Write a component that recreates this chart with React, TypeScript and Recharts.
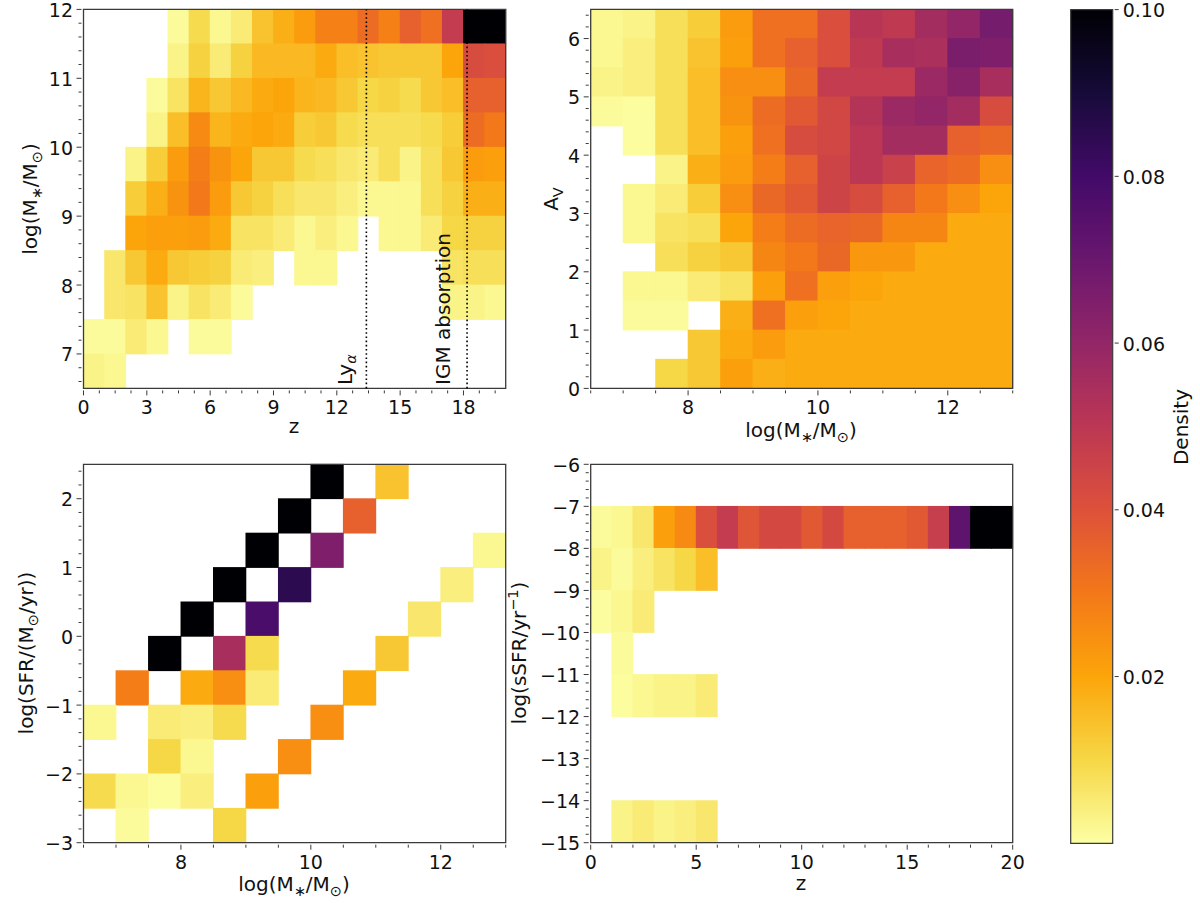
import React from 'react'
import {
  Bar,
  BarChart,
  ReferenceArea,
  ReferenceLine,
  Scatter,
  ScatterChart,
  XAxis,
  YAxis,
} from 'recharts'

const FONT = 'DejaVu Sans'
const TEXT = '#111111'
const AXIS = '#3a3a3a'

// bin centres, rows run from the top of the panel down
const zBins = [0.5, 1.5, 2.5, 3.5, 4.5, 5.5, 6.5, 7.5, 8.5, 9.5, 10.5, 11.5, 12.5, 13.5, 14.5, 15.5, 16.5, 17.5, 18.5, 19.5]
const massRows = [11.75, 11.25, 10.75, 10.25, 9.75, 9.25, 8.75, 8.25, 7.75, 7.25, 6.75]
const massBins = [6.75, 7.25, 7.75, 8.25, 8.75, 9.25, 9.75, 10.25, 10.75, 11.25, 11.75, 12.25, 12.75]
const avRows = [6.25, 5.75, 5.25, 4.75, 4.25, 3.75, 3.25, 2.75, 2.25, 1.75, 1.25, 0.75, 0.25]
const sfrRows = [2.25, 1.75, 1.25, 0.75, 0.25, -0.25, -0.75, -1.25, -1.75, -2.25, -2.75]
const ssfrRows = [-6.5, -7.5, -8.5, -9.5, -10.5, -11.5, -12.5, -13.5, -14.5]

const _ = null

const massByZ = [
  [_, _, _, _, .001, .009, .002, .005, .014, .018, .022, .028, .028, .033, .028, .036, .032, .048, .1, .1],
  [_, _, _, _, .003, .011, .005, .011, .016, .016, .016, .019, .015, .014, .013, .013, .013, .02, .042, .041],
  [_, _, _, .001, .007, .017, .013, .016, .019, .02, .017, .016, .013, .01, .011, .009, .013, .015, .036, .036],
  [_, _, _, .003, .015, .026, .017, .019, .02, .019, .012, .013, .009, .008, .008, .008, .009, .012, .033, .03],
  [_, _, .003, .012, .022, .029, .024, .02, .013, .013, .009, .008, .006, .005, .008, .003, .008, .013, .022, .021],
  [_, _, .012, .018, .024, .03, .022, .013, .011, .008, .006, .006, .004, .002, .002, .002, .008, .011, .018, .018],
  [_, _, .02, .021, .021, .022, .019, .007, .007, .005, .002, .004, .002, _, .002, .002, .005, .01, .011, .011],
  [_, .006, .013, .019, .013, .012, .011, .005, .004, _, .002, .002, _, _, _, _, _, .007, .008, .008],
  [_, .006, .007, .014, .003, .007, .005, .001, _, _, _, _, _, _, _, _, _, .003, .003, .002],
  [.001, .001, .005, .002, _, .001, .001, _, _, _, _, _, _, _, _, _, _, _, _, _],
  [.003, .002, _, _, _, _, _, _, _, _, _, _, _, _, _, _, _, _, _, _],
]

const avByMass = [
  [.002, .003, .008, .012, .022, .032, .032, .041, .051, .049, .056, .06, .067],
  [.002, .004, .008, .014, .021, .032, .036, .041, .049, .055, .054, .066, .065],
  [.003, .004, .008, .015, .025, .025, .034, .048, .048, .048, .058, .063, .055],
  [.001, .0005, .008, .015, .024, .033, .038, .044, .052, .058, .06, .056, .042],
  [_, .0005, .008, .015, .021, .032, .042, .044, .05, .056, .056, .036, .034],
  [_, _, .003, .018, .022, .029, .036, .045, .05, .046, .035, .033, .025],
  [_, .002, .005, .012, .025, .034, .038, .045, .042, .036, .03, .025, .02],
  [_, .002, .007, .008, .02, .029, .033, .035, .034, .027, .027, .019, .019],
  [_, _, .008, .011, .013, .027, .03, .034, .023, .023, .019, .019, .019],
  [_, .002, .002, .005, .007, .021, .032, .021, .02, .019, .019, .019, .019],
  [_, .001, .001, _, .018, .032, .021, .02, .019, .019, .019, .019, .019],
  [_, _, _, .013, .019, .022, .019, .019, .019, .019, .019, .019, .019],
  [_, _, .01, .013, .021, .018, .019, .019, .019, .019, .019, .019, .019],
]

const sfrByMass = [
  [_, _, _, _, _, _, _, .1, _, .014, _, _, _],
  [_, _, _, _, _, _, .1, _, .036, _, _, _, _],
  [_, _, _, _, _, .1, _, .065, _, _, _, _, .002],
  [_, _, _, _, .1, _, .085, _, _, _, _, .004, _],
  [_, _, _, .1, _, .078, _, _, _, _, .006, _, _],
  [_, _, .1, _, .055, .009, _, _, _, .013, _, _, _],
  [_, .029, _, .019, .025, .005, _, _, .019, _, _, _, _],
  [.002, _, .005, .004, .009, _, _, .025, _, _, _, _, _],
  [_, _, .01, .002, _, _, .025, _, _, _, _, _, _],
  [.009, .002, .0005, .004, _, .021, _, _, _, _, _, _, _],
  [_, .001, _, _, .01, _, _, _, _, _, _, _, _],
]

const ssfrByZ = [
  [_, _, _, _, _, _, _, _, _, _, _, _, _, _, _, _, _, _, _, _],
  [.001, .002, .006, .021, .026, .041, .048, .039, .043, .043, .038, .043, .036, .036, .036, .038, .047, .073, .1, .1],
  [.003, .001, .004, .007, .01, .015, _, _, _, _, _, _, _, _, _, _, _, _, _, _],
  [.0005, .002, .005, _, _, _, _, _, _, _, _, _, _, _, _, _, _, _, _, _],
  [_, .001, _, _, _, _, _, _, _, _, _, _, _, _, _, _, _, _, _, _],
  [_, .0005, .002, .003, .003, .005, _, _, _, _, _, _, _, _, _, _, _, _, _, _],
  [_, _, _, _, _, _, _, _, _, _, _, _, _, _, _, _, _, _, _, _],
  [_, _, _, _, _, _, _, _, _, _, _, _, _, _, _, _, _, _, _, _],
  [_, .003, .005, .003, .004, .006, _, _, _, _, _, _, _, _, _, _, _, _, _, _],
]

const massTicks = [8, 10, 12]
const zTicksA = [0, 3, 6, 9, 12, 15, 18]
const zTicksD = [0, 5, 10, 15, 20]
const massYTicks = [7, 8, 9, 10, 11, 12]
const avTicks = [0, 1, 2, 3, 4, 5, 6]
const sfrTicks = [-3, -2, -1, 0, 1, 2]
const ssfrTicks = [-15, -14, -13, -12, -11, -10, -9, -8, -7, -6]
const densityTicks = [0.02, 0.04, 0.06, 0.08, 0.1]

// inferno, reversed: density 0 -> pale yellow, 0.1 -> black
const inferno = ['#fcffa4', '#f6d746', '#fca50a', '#f37819', '#dd513a', '#bc3754', '#932667', '#6a176e', '#420a68', '#160b39', '#000004']

function densityColor(v: number) {
  const t = Math.min(v / 0.1, 1) * (inferno.length - 1)
  const i = Math.min(Math.floor(t), inferno.length - 2)
  const f = t - i
  const a = parseInt(inferno[i].slice(1), 16)
  const b = parseInt(inferno[i + 1].slice(1), 16)
  const mix = (s: number) => Math.round(((a >> s) & 255) * (1 - f) + ((b >> s) & 255) * f)
  return `rgb(${mix(16)},${mix(8)},${mix(0)})`
}

function toCells(xs: number[], ys: number[], rows: (number | null)[][]) {
  return rows.flatMap((row, r) =>
    row.flatMap((density, c) => (density === null ? [] : [{ x: xs[c], y: ys[r], density }]))
  )
}

function minorTicks(from: number, to: number, step: number) {
  const out: number[] = []
  const n = Math.round((to - from) / step)
  for (let i = 0; i <= n; i++) out.push(Math.round((from + i * step) * 1000) / 1000)
  return out
}

const label = (v: number) => String(v).replace('-', '\u2212')

const XTick = (majors: number[]) => (p: any) => {
  const major = majors.includes(p.payload.value)
  return (
    <g>
      <line x1={p.x} x2={p.x} y1={p.y} y2={p.y + (major ? 5 : 3)} stroke={AXIS} strokeWidth={1} />
      {major && (
        <text x={p.x} y={p.y + 24} textAnchor='middle' fontSize={19} fontFamily={FONT} fill={TEXT}>
          {label(p.payload.value)}
        </text>
      )}
    </g>
  )
}

const YTick = (majors: number[]) => (p: any) => {
  const major = majors.includes(p.payload.value)
  return (
    <g>
      <line x1={p.x - (major ? 5 : 3)} x2={p.x} y1={p.y} y2={p.y} stroke={AXIS} strokeWidth={1} />
      {major && (
        <text x={p.x - 8.5} y={p.y + 7.5} textAnchor='end' fontSize={19} fontFamily={FONT} fill={TEXT}>
          {label(p.payload.value)}
        </text>
      )}
    </g>
  )
}

const DensityTick = (p: any) => (
  <g>
    <line x1={p.x} x2={p.x + 4} y1={p.y} y2={p.y} stroke={AXIS} strokeWidth={1} />
    <text x={p.x + 8} y={p.y + 7.5} fontSize={19} fontFamily={FONT} fill={TEXT}>
      {p.payload.value.toFixed(2)}
    </text>
  </g>
)

// pieces: [text, 'sub' | 'sup' | undefined]
type Piece = [string, ('sub' | 'sup')?]

function AxisTitle({ px, py, rotate, pieces }: { px: number; py: number; rotate?: boolean; pieces: Piece[] }) {
  let prev = 0
  return (
    <text
      x={px}
      y={py}
      textAnchor='middle'
      fontSize={20}
      fontFamily={FONT}
      fill={TEXT}
      transform={rotate ? `rotate(-90 ${px} ${py})` : undefined}
    >
      {pieces.map(([t, kind], i) => {
        const off = kind === 'sub' ? 4.5 : kind === 'sup' ? -8 : 0
        const dy = off - prev
        prev = off
        return (
          <tspan key={i} dy={dy} fontSize={kind ? 14.5 : 20}>
            {t}
          </tspan>
        )
      })}
    </text>
  )
}

const massTitle: Piece[] = [['log(M'], ['\u2217', 'sub'], ['/M'], ['\u2299', 'sub'], [')']]
const sfrTitle: Piece[] = [['log(SFR/(M'], ['\u2299', 'sub'], ['/yr))']]
const ssfrTitle: Piece[] = [['log(sSFR/yr'], ['\u22121', 'sup'], [')']]
const avTitle: Piece[] = [['A'], ['V', 'sub']]

type PanelProps = {
  left: number
  top: number
  width: number
  height: number
  plotLeft: number
  plotRight: number
  plotTop: number
  plotBottom: number
  cells: { x: number; y: number; density: number }[]
  cols: number
  rows: number
  xDomain: [number, number]
  yDomain: [number, number]
  xMinor: number[]
  yMinor: number[]
  xMajor: number[]
  yMajor: number[]
  xTitle: React.ReactElement
  yTitle: React.ReactElement
  children?: React.ReactNode
}

function Panel(props: PanelProps) {
  const { left, top, width, height, plotLeft, plotRight, plotTop, plotBottom } = props
  const cw = (plotRight - plotLeft) / props.cols + 0.8
  const ch = (plotBottom - plotTop) / props.rows + 0.8
  const cell = (p: any) => (
    <rect x={p.cx - cw / 2} y={p.cy - ch / 2} width={cw} height={ch} fill={densityColor(p.payload.density)} />
  )
  const margin = { top: plotTop, right: width - plotRight, bottom: 0, left: 0 }
  return (
    <>
      <div style={{ position: 'absolute', left, top }}>
        <ScatterChart width={width} height={height} margin={margin}>
          <XAxis
            type='number'
            dataKey='x'
            domain={props.xDomain}
            ticks={props.xMinor}
            interval={0}
            height={height - plotBottom}
            tickSize={0}
            tickLine={false}
            tick={XTick(props.xMajor)}
            axisLine={false}
            label={props.xTitle}
          />
          <YAxis
            type='number'
            dataKey='y'
            domain={props.yDomain}
            ticks={props.yMinor}
            interval={0}
            width={plotLeft}
            tickSize={0}
            tickLine={false}
            tick={YTick(props.yMajor)}
            axisLine={false}
            label={props.yTitle}
          />
          <Scatter data={props.cells} shape={cell} isAnimationActive={false} />
        </ScatterChart>
      </div>
      {/* second layer so the frame and dotted lines sit above the cells */}
      <div style={{ position: 'absolute', left, top, pointerEvents: 'none' }}>
        <ScatterChart width={width} height={height} margin={margin}>
          <XAxis
            type='number'
            dataKey='x'
            domain={props.xDomain}
            height={height - plotBottom}
            tick={false}
            tickLine={false}
            axisLine={false}
          />
          <YAxis
            type='number'
            dataKey='y'
            domain={props.yDomain}
            width={plotLeft}
            tick={false}
            tickLine={false}
            axisLine={false}
          />
          <Scatter data={props.cells} shape={() => <g />} isAnimationActive={false} />
          {props.children}
          <ReferenceArea
            x1={props.xDomain[0]}
            x2={props.xDomain[1]}
            y1={props.yDomain[0]}
            y2={props.yDomain[1]}
            fill='none'
            fillOpacity={0}
            stroke={AXIS}
            strokeWidth={1.3}
          />
        </ScatterChart>
      </div>
    </>
  )
}

const LineCaption = ({ viewBox, dx, pieces }: any) => (
  <text
    transform={`translate(${viewBox.x + dx} 385) rotate(-90)`}
    fontSize={20}
    fontFamily={FONT}
    fill={TEXT}
  >
    {pieces.map(([t, kind]: Piece, i: number) => (
      <tspan key={i} fontSize={kind ? 14.5 : 20} fontStyle={kind ? 'italic' : undefined} dy={kind ? 4 : 0}>
        {t}
      </tspan>
    ))}
  </text>
)

const densityBar = [{ name: 'Density', density: 0.1 }]

export default function App() {
  return (
    <div style={{ position: 'absolute', left: 0, top: 0, width: 1200, height: 903, background: '#fff', fontFamily: FONT }}>
      <Panel
        left={0}
        top={0}
        width={530}
        height={450}
        plotLeft={83.5}
        plotRight={505.7}
        plotTop={9.4}
        plotBottom={388.4}
        cells={toCells(zBins, massRows, massByZ)}
        cols={20}
        rows={11}
        xDomain={[0, 20]}
        yDomain={[6.5, 12]}
        xMajor={zTicksA}
        yMajor={massYTicks}
        xMinor={minorTicks(0, 19.5, 0.75)}
        yMinor={minorTicks(6.6, 12, 0.2)}
        xTitle={<AxisTitle px={294} py={433} pieces={[['z']]} />}
        yTitle={<AxisTitle px={37} py={199} rotate pieces={massTitle} />}
      >
        <ReferenceLine
          x={13.4}
          stroke='#000'
          strokeWidth={1.6}
          strokeDasharray='1.6 2.6'
          label={<LineCaption dx={-14} pieces={[['Ly'], ['\u03b1', 'sub']]} />}
        />
        <ReferenceLine
          x={18.17}
          stroke='#000'
          strokeWidth={1.6}
          strokeDasharray='1.6 2.6'
          label={<LineCaption dx={-17} pieces={[['IGM absorption']]} />}
        />
      </Panel>

      <Panel
        left={505}
        top={0}
        width={530}
        height={450}
        plotLeft={85.7}
        plotRight={507.7}
        plotTop={9.4}
        plotBottom={388.4}
        cells={toCells(massBins, avRows, avByMass)}
        cols={13}
        rows={13}
        xDomain={[6.5, 13]}
        yDomain={[0, 6.5]}
        xMajor={massTicks}
        yMajor={avTicks}
        xMinor={minorTicks(6.5, 13, 0.5)}
        yMinor={minorTicks(0, 6.4, 0.2)}
        xTitle={<AxisTitle px={296} py={437} pieces={massTitle} />}
        yTitle={<AxisTitle px={53} py={199} rotate pieces={avTitle} />}
      />

      <Panel
        left={0}
        top={455}
        width={530}
        height={448}
        plotLeft={83.5}
        plotRight={505.7}
        plotTop={9.3}
        plotBottom={387.7}
        cells={toCells(massBins, sfrRows, sfrByMass)}
        cols={13}
        rows={11}
        xDomain={[6.5, 13]}
        yDomain={[-3, 2.5]}
        xMajor={massTicks}
        yMajor={sfrTicks}
        xMinor={minorTicks(6.5, 13, 0.5)}
        yMinor={minorTicks(-3, 2.4, 0.2)}
        xTitle={<AxisTitle px={294} py={436} pieces={massTitle} />}
        yTitle={<AxisTitle px={33} py={198} rotate pieces={sfrTitle} />}
      />

      <Panel
        left={505}
        top={455}
        width={530}
        height={448}
        plotLeft={85.7}
        plotRight={507.7}
        plotTop={9.3}
        plotBottom={387.7}
        cells={toCells(zBins, ssfrRows, ssfrByZ)}
        cols={20}
        rows={9}
        xDomain={[0, 20]}
        yDomain={[-15, -6]}
        xMajor={zTicksD}
        yMajor={ssfrTicks}
        xMinor={minorTicks(0, 20, 1)}
        yMinor={minorTicks(-15, -6, 0.2)}
        xTitle={<AxisTitle px={296} py={435} pieces={[['z']]} />}
        yTitle={<AxisTitle px={21} py={198} rotate pieces={ssfrTitle} />}
      />

      <div style={{ position: 'absolute', left: 1050, top: 0 }}>
        <BarChart
          width={150}
          height={860}
          data={densityBar}
          barCategoryGap={0}
          margin={{ top: 9.6, right: 0, bottom: 16.7, left: 20.7 }}
        >
          <defs>
            <linearGradient id='densityGradient' x1='0' y1='1' x2='0' y2='0'>
              {inferno.map((c, i) => (
                <stop key={c} offset={`${i * 10}%`} stopColor={c} />
              ))}
            </linearGradient>
          </defs>
          <XAxis dataKey='name' hide />
          <YAxis
            orientation='right'
            type='number'
            domain={[0, 0.1]}
            ticks={densityTicks}
            interval={0}
            width={87.3}
            axisLine={false}
            tickSize={0}
            tickLine={false}
            tick={DensityTick}
            label={<AxisTitle px={138} py={427} rotate pieces={[['Density']]} />}
          />
          <Bar dataKey='density' fill='url(#densityGradient)' stroke={AXIS} strokeWidth={1.2} isAnimationActive={false} />
        </BarChart>
      </div>
    </div>
  )
}
